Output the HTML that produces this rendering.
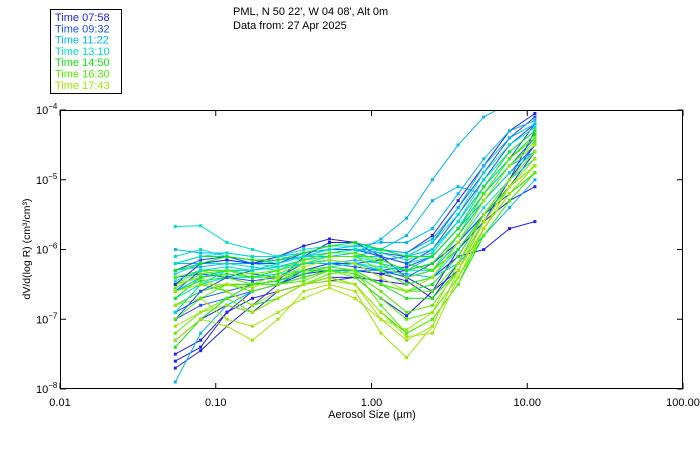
<!DOCTYPE html>
<html><head><meta charset="utf-8"><style>
body{margin:0;background:#fff;}
svg{display:block;font-family:"Liberation Sans",sans-serif;}
</style></head><body>
<svg id="chart" width="700" height="450" viewBox="0 0 700 450">
<defs><clipPath id="pc"><rect x="60" y="110" width="623" height="279"/></clipPath></defs>
<rect x="50.5" y="9.5" width="71" height="84" fill="#fff" stroke="#000"/>
<g id="legend" font-size="11"></g>
<text x="233" y="15" font-size="11">PML, N 50 22', W 04 08', Alt 0m</text>
<text x="233" y="29" font-size="11">Data from: 27 Apr 2025</text>
<g id="series" clip-path="url(#pc)"></g>
<rect x="60.5" y="110.5" width="622" height="278" fill="none" stroke="#000"/>
<g id="axes" font-size="11"></g>
<text x="372" y="418" font-size="11" text-anchor="middle">Aerosol Size (µm)</text>
<text transform="translate(30,249) rotate(-90)" font-size="10.5" text-anchor="middle">dV/d(log R) (cm³/cm³)</text>
</svg>
<script>
const sizes=[0.055,0.080,0.118,0.172,0.251,0.367,0.537,0.785,1.15,1.68,2.46,3.60,5.26,7.69,11.2];
const legendLabels=["Time 07:58","Time 09:32","Time 11:22","Time 13:10","Time 14:50","Time 16:30","Time 17:43"];
const groupColors=["#2020f0","#1a50ff","#00b8f8","#00e0c8","#10e810","#50f000","#a0e800"];
const xTicks=[0.01,0.1,1,10,100];
const xTickLabels=["0.01","0.10","1.00","10.00","100.00"];
const yTicks=[-4,-5,-6,-7,-8];
const seriesGroup=[0,0,0,0,0,1,1,1,1,2,2,2,2,3,3,3,3,4,4,4,4,5,5,5,5,6,6,6,6,0,1,1,2,2,3,3,3,4,4,5,5,6];
const seriesVals=[
[-7.6,-7.4,-6.9,-6.6,-6.5,-6.4,-6.3,-6.3,-6.35,-6.3,-6.2,-5.9,-5.5,-5.1,-4.6],
[-6.8,-6.6,-6.5,-6.5,-6.45,-6.1,-5.9,-5.9,-6.1,-6.4,-6.6,-6.3,-5.6,-5.0,-4.3],
[-7.3,-7.0,-6.8,-6.9,-6.6,-6.5,-6.45,-6.4,-6.7,-6.95,-6.6,-6.0,-5.6,-5.3,-5.1],
[-7.5,-7.3,-6.9,-6.7,-6.6,-6.5,-6.4,-6.4,-6.45,-6.5,-6.4,-6.1,-6.0,-5.7,-5.6],
[-7.7,-7.45,-7.1,-6.8,-6.5,-6.35,-6.3,-6.3,-6.35,-6.45,-6.7,-6.2,-5.5,-5.0,-4.5],
[-6.6,-6.3,-6.3,-6.35,-6.4,-6.2,-6.15,-6.2,-6.3,-6.25,-6.1,-5.7,-5.2,-4.8,-4.4],
[-6.9,-6.7,-6.6,-6.5,-6.5,-6.3,-6.2,-6.2,-6.15,-6.1,-6.0,-5.6,-5.1,-4.7,-4.2],
[-7.0,-6.8,-6.7,-6.6,-6.5,-6.4,-6.3,-6.3,-6.3,-6.4,-6.3,-5.9,-5.5,-5.2,-4.9],
[-6.4,-6.35,-6.4,-6.45,-6.4,-6.3,-6.2,-6.25,-6.3,-6.4,-6.2,-5.8,-5.3,-4.9,-4.5],
[-6.3,-6.25,-6.2,-6.2,-6.15,-6.1,-6.1,-6.05,-5.85,-5.55,-5.0,-4.5,-4.1,-3.9,-3.9],
[-6.2,-6.2,-6.15,-6.2,-6.15,-6.1,-6.1,-6.1,-6.0,-5.8,-5.3,-5.1,-5.2,-4.8,-4.6],
[-7.9,-7.2,-6.8,-6.6,-6.5,-6.4,-6.3,-6.3,-6.3,-6.35,-6.4,-6.2,-5.8,-5.4,-5.0],
[-6.5,-6.4,-6.3,-6.3,-6.25,-6.2,-6.2,-6.15,-6.2,-6.3,-6.1,-5.7,-5.3,-4.9,-4.6],
[-5.67,-5.66,-5.9,-6.0,-6.1,-6.15,-6.1,-6.1,-6.1,-6.2,-6.1,-5.7,-5.2,-4.8,-4.5],
[-6.1,-6.0,-6.1,-6.2,-6.25,-6.2,-6.15,-6.2,-6.25,-6.3,-6.2,-5.8,-5.3,-4.9,-4.6],
[-6.7,-6.5,-6.4,-6.4,-6.35,-6.3,-6.25,-6.2,-6.3,-6.5,-6.4,-6.0,-5.5,-5.0,-4.7],
[-6.35,-6.2,-6.2,-6.25,-6.3,-6.2,-6.1,-6.1,-6.2,-6.3,-6.3,-5.9,-5.4,-5.0,-4.7],
[-6.2,-6.1,-6.1,-6.15,-6.2,-6.1,-6.0,-6.0,-6.1,-6.2,-6.3,-6.0,-5.5,-5.0,-4.6],
[-7.4,-7.0,-6.7,-6.5,-6.45,-6.3,-6.3,-6.35,-6.5,-6.7,-6.7,-6.3,-5.6,-5.1,-4.8],
[-6.9,-6.5,-6.6,-6.8,-6.7,-6.5,-6.4,-6.5,-6.9,-7.2,-7.0,-6.5,-5.8,-5.3,-4.9],
[-6.6,-6.45,-6.4,-6.5,-6.45,-6.35,-6.25,-6.3,-6.5,-6.6,-6.5,-6.1,-5.5,-5.1,-4.8],
[-6.5,-6.3,-6.4,-6.5,-6.5,-6.4,-6.3,-6.35,-6.6,-6.9,-6.8,-6.3,-5.7,-5.2,-4.8],
[-7.2,-6.9,-6.7,-6.9,-6.7,-6.5,-6.35,-6.3,-6.8,-7.2,-7.0,-6.5,-5.7,-5.2,-4.9],
[-6.8,-6.6,-6.5,-6.6,-6.5,-6.45,-6.3,-6.4,-6.7,-7.0,-6.9,-6.4,-5.8,-5.3,-4.9],
[-6.4,-6.3,-6.3,-6.4,-6.4,-6.3,-6.25,-6.3,-6.5,-6.6,-6.6,-6.2,-5.6,-5.1,-4.7],
[-7.3,-7.0,-7.1,-7.3,-7.0,-6.6,-6.5,-6.6,-7.2,-7.55,-7.1,-6.3,-5.7,-5.2,-4.8],
[-6.8,-6.7,-7.0,-7.1,-6.9,-6.7,-6.55,-6.7,-7.0,-7.3,-7.1,-6.3,-5.6,-5.1,-4.8],
[-6.5,-6.4,-6.6,-6.8,-6.6,-6.5,-6.4,-6.5,-7.0,-7.15,-6.9,-6.2,-5.5,-5.0,-4.6],
[-7.1,-6.9,-6.8,-6.9,-6.7,-6.5,-6.45,-6.5,-6.9,-7.25,-7.2,-6.4,-5.7,-5.1,-4.7],
[-6.5,-6.2,-6.15,-6.2,-6.1,-5.95,-5.85,-5.9,-6.0,-6.05,-5.8,-5.3,-4.8,-4.3,-4.05],
[-6.3,-6.15,-6.1,-6.2,-6.2,-6.05,-6.0,-6.0,-6.05,-6.1,-5.9,-5.4,-4.9,-4.4,-4.1],
[-7.0,-6.6,-6.4,-6.3,-6.25,-6.15,-6.05,-6.0,-6.1,-6.2,-6.0,-5.5,-5.0,-4.5,-4.2],
[-6.0,-6.05,-6.05,-6.1,-6.1,-6.05,-6.0,-5.95,-5.9,-5.9,-5.7,-5.2,-4.7,-4.3,-4.15],
[-6.6,-6.4,-6.3,-6.3,-6.2,-6.1,-6.05,-6.0,-6.0,-6.05,-5.85,-5.4,-4.8,-4.4,-4.2],
[-6.2,-6.1,-6.05,-6.1,-6.1,-6.0,-5.95,-5.95,-6.0,-6.1,-5.9,-5.5,-4.9,-4.5,-4.25],
[-6.9,-6.5,-6.3,-6.3,-6.2,-6.1,-6.0,-5.95,-6.0,-6.1,-6.0,-5.6,-5.0,-4.6,-4.3],
[-6.45,-6.3,-6.25,-6.3,-6.25,-6.15,-6.05,-6.0,-6.05,-6.15,-6.05,-5.6,-5.1,-4.7,-4.4],
[-6.3,-6.2,-6.1,-6.15,-6.15,-6.05,-5.95,-5.9,-6.0,-6.1,-6.1,-5.7,-5.1,-4.6,-4.3],
[-6.7,-6.4,-6.35,-6.4,-6.3,-6.15,-6.05,-6.05,-6.15,-6.3,-6.2,-5.8,-5.2,-4.7,-4.35],
[-6.55,-6.35,-6.3,-6.35,-6.3,-6.15,-6.05,-6.05,-6.2,-6.4,-6.3,-5.8,-5.2,-4.7,-4.4],
[-7.0,-6.7,-6.5,-6.5,-6.35,-6.2,-6.1,-6.1,-6.3,-6.5,-6.4,-5.9,-5.3,-4.8,-4.45],
[-6.6,-6.5,-6.5,-6.55,-6.4,-6.25,-6.15,-6.2,-6.4,-6.6,-6.4,-5.9,-5.3,-4.8,-4.5]
];
const NS="http://www.w3.org/2000/svg";
const X0=60,X1=683,Y0=389,Y1=110;
function xs(v){return X0+(Math.log10(v)+2)/4*(X1-X0);}
function ys(l){return Y0-(l+8)/4*(Y0-Y1);}
function mk(t,a){const e=document.createElementNS(NS,t);for(const k in a)e.setAttribute(k,a[k]);return e;}
const sg=document.getElementById('series');
seriesVals.forEach((vals,i)=>{
  const col=groupColors[seriesGroup[i]];
  const g=mk('g',{});
  
  
  const pts=vals.map((v,j)=>xs(sizes[j]).toFixed(1)+','+ys(v).toFixed(1)).join(' ');
  g.appendChild(mk('polyline',{points:pts,fill:'none',stroke:col,'stroke-width':1}));
  vals.forEach((v,j)=>{
    const r=mk('rect',{x:xs(sizes[j])-1.5,y:ys(v)-1.5,width:3,height:3,fill:col});
    
    
    g.appendChild(r);
  });
  sg.appendChild(g);
});
const lg=document.getElementById('legend');
legendLabels.forEach((t,i)=>{
  const e=mk('text',{x:55,y:21+i*11.3,fill:groupColors[i]});
  
  
  e.textContent=t;lg.appendChild(e);
});
const ax=document.getElementById('axes');
xTicks.forEach((v,i)=>{
  const x=xs(v);
  ax.appendChild(mk('line',{x1:x,x2:x,y1:Y0,y2:Y0-6,stroke:'#000'}));
  ax.appendChild(mk('line',{x1:x,x2:x,y1:Y1,y2:Y1+6,stroke:'#000'}));
  const t=mk('text',{x:x,y:406,'text-anchor':'middle'});
  
  
  t.textContent=xTickLabels[i];ax.appendChild(t);
});
yTicks.forEach(l=>{
  const y=ys(l);
  ax.appendChild(mk('line',{x1:X0,x2:X0+6,y1:y,y2:y,stroke:'#000'}));
  ax.appendChild(mk('line',{x1:X1,x2:X1-6,y1:y,y2:y,stroke:'#000'}));
  const t=mk('text',{x:36,y:y+4,'text-anchor':'start'});
  
  
  t.textContent='10';
  const s=mk('tspan',{dy:-5,'font-size':8});s.textContent='−'+(-l);t.appendChild(s);
  ax.appendChild(t);
});
</script>
</body></html>
